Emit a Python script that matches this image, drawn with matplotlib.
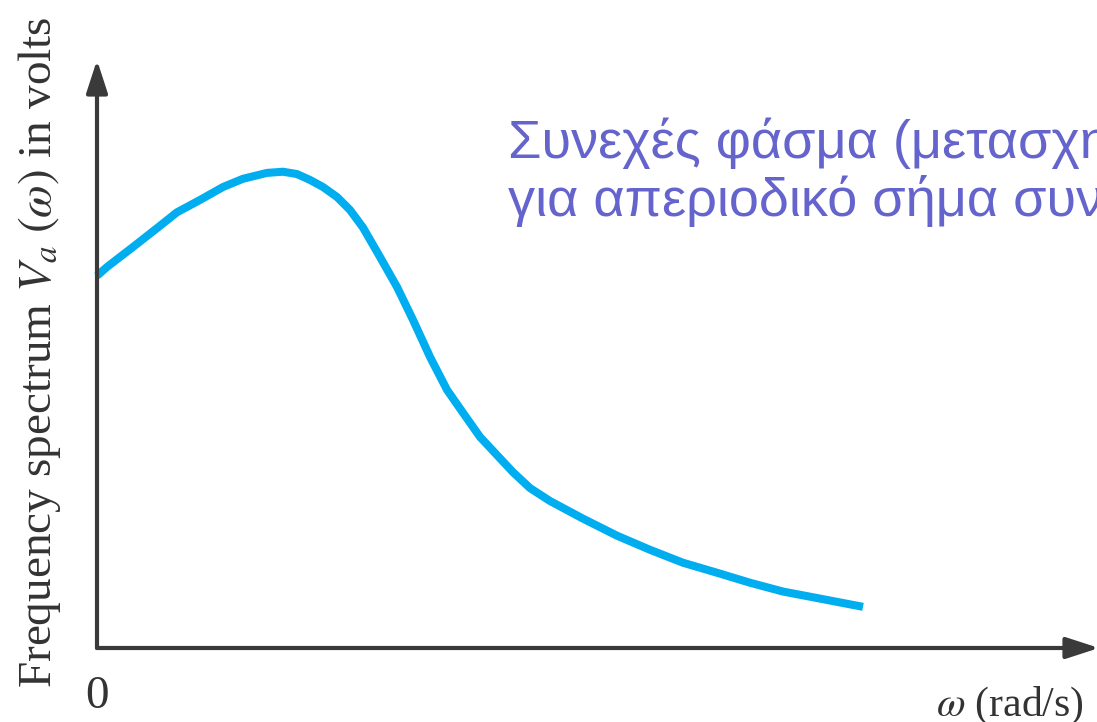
import matplotlib
matplotlib.use("Agg")
import matplotlib.pyplot as plt

plt.rcParams["mathtext.fontset"] = "stix"

# Frequency axis (rad/s, arbitrary units) and spectrum magnitude (volts, arbitrary units)
omega = [0.00, 0.10, 0.36, 0.60, 0.80, 1.03, 1.26, 1.46, 1.70, 1.86, 2.00,
         2.13, 2.26, 2.40, 2.53, 2.66, 2.83, 3.00, 3.16, 3.33, 3.50, 3.66,
         3.83, 4.00, 4.16, 4.33, 4.53, 4.86, 5.20, 5.53, 5.86, 6.20, 6.53,
         6.86, 7.20, 7.66]
spectrum = [6.33, 6.48, 6.82, 7.14, 7.41, 7.62, 7.84, 7.98, 8.08, 8.10, 8.06,
            7.96, 7.84, 7.67, 7.45, 7.15, 6.65, 6.14, 5.58, 4.95, 4.39, 4.00,
            3.59, 3.28, 2.99, 2.72, 2.50, 2.20, 1.91, 1.67, 1.45, 1.28, 1.11,
            0.96, 0.85, 0.70]

ylabel_text = r"Frequency spectrum $V_a\ (\omega)$ in volts"
xlabel_text = r"$\omega$ (rad/s)"
origin_text = "0"
note_lines = ["Συνεχές φάσμα (μετασχηματισμός",
              "για απεριοδικό σήμα συνεχούς"]

W, H = 1097, 722
fig = plt.figure(figsize=(W / 100, H / 100), dpi=100)
fig.patch.set_facecolor("white")

ax = fig.add_axes([97 / W, (H - 648) / H, 1000 / W, 588 / H])
ax.set_xlim(0, 10)
ax.set_ylim(0, 10)
ax.axis("off")

axis_color = "#3a3a3a"
arrow = dict(arrowstyle="-|>,head_length=2.0,head_width=0.65",
             color=axis_color, lw=3, shrinkA=0, shrinkB=0)
ax.annotate("", xy=(0, 10), xytext=(0, 0), arrowprops=arrow,
            annotation_clip=False)
ax.annotate("", xy=(10.02, 0), xytext=(0, 0), arrowprops=arrow,
            annotation_clip=False)

ax.plot(omega, spectrum, color="#00aeef", lw=5.8, solid_capstyle="butt",
        solid_joinstyle="round", clip_on=False)

serif = "Liberation Serif"
fig.text(40 / W, 1 - 352 / H, ylabel_text, rotation=90, ha="center",
         va="center", fontsize=34, family=serif, color="#333333")
fig.text(97 / W, 1 - 697 / H, origin_text, ha="center", va="center",
         fontsize=34, family=serif, color="#333333")
fig.text(936 / W, 1 - 716 / H, xlabel_text, ha="left", va="baseline",
         fontsize=30, family=serif, color="#333333")

note_color = "#6464cc"
fig.text(508 / W, 1 - 158 / H, note_lines[0], ha="left", va="baseline",
         fontsize=39, family="Liberation Sans", color=note_color)
fig.text(508 / W, 1 - 216 / H, note_lines[1], ha="left", va="baseline",
         fontsize=39, family="Liberation Sans", color=note_color)

fig.savefig("out.png", dpi=100, facecolor="white")
